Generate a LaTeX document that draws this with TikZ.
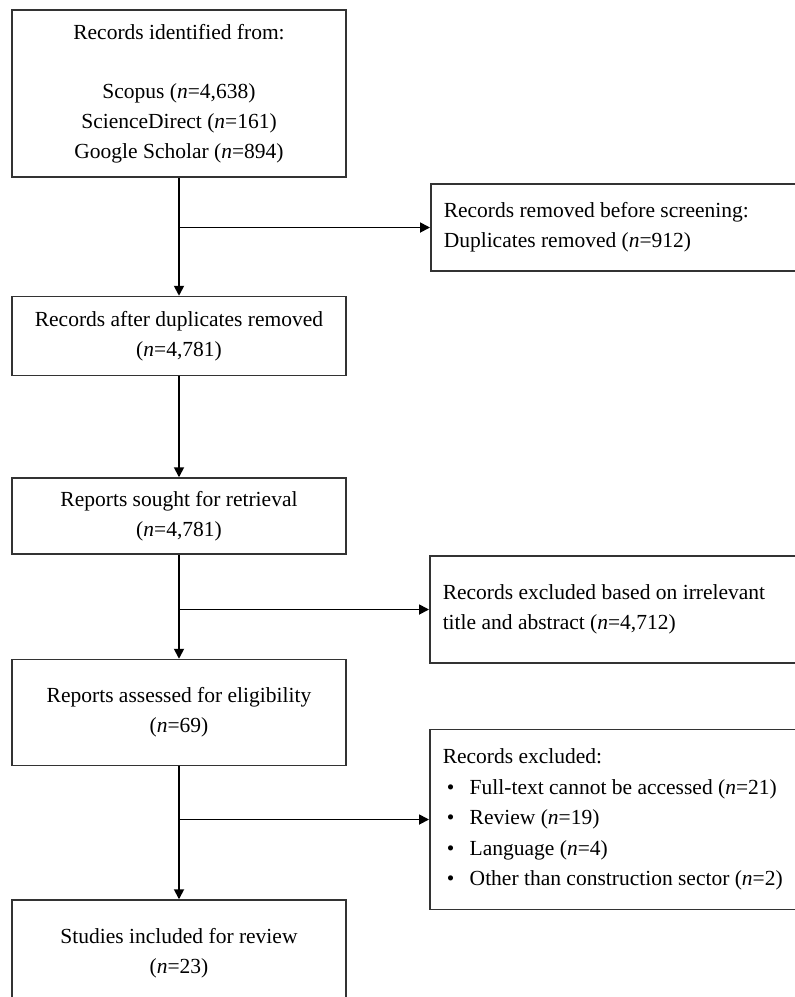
\documentclass[tikz,border=0pt]{standalone}
\usepackage{fontspec}
\setmainfont{Liberation Serif}
\usetikzlibrary{positioning, arrows.meta}

\begin{document}
\begin{tikzpicture}[
        x=1pt, y=-1pt,
        font=\fontsize{21.5}{29.7}\selectfont,
        stage/.style={rectangle, draw=black!80, line width=1.5pt, minimum width=334pt, inner sep=0pt, align=center},
        side/.style={rectangle, draw=black!80, line width=1.5pt, anchor=west, text width=390pt, inner xsep=13pt, inner ysep=0pt, align=flush left},
        flow/.style={-{Triangle[length=10pt, width=10pt]}, line width=1.8pt}
    ]
        \clip (0,0) rectangle (795,997);
        % Nodes
        \node (ident) [stage, minimum height=167pt] at (179, 93.5) {Records identified from:\\ \mbox{}\\ Scopus (\textit{n}=4,638)\\ ScienceDirect (\textit{n}=161)\\ Google Scholar (\textit{n}=894)};
        \node (dup) [stage, minimum height=79pt, below=118pt of ident] {Records after duplicates removed\\ (\textit{n}=4,781)};
        \node (sought) [stage, minimum height=76pt, below=101pt of dup] {Reports sought for retrieval\\ (\textit{n}=4,781)};
        \node (assess) [stage, minimum height=106pt, below=104pt of sought] {Reports assessed for eligibility\\ (\textit{n}=69)};
        \node (incl) [stage, minimum height=106pt, below=133pt of assess] {Studies included for review\\ (\textit{n}=23)};

        \node (removed) [side, minimum height=87pt] at (430, 227.5) {Records removed before screening:\\ Duplicates removed (\textit{n}=912)};
        \node (irrel) [side, minimum height=107pt] at (429, 609.5) {Records excluded based on irrelevant\\ title and abstract (\textit{n}=4,712)};
        \node (excl) [side, minimum height=180pt, font=\fontsize{21.5}{30.5}\selectfont] at (429, 819.5) {Records excluded:\\
            \hspace*{4pt}\makebox[23pt][l]{\textbullet}Full-text cannot be accessed (\textit{n}=21)\\
            \hspace*{4pt}\makebox[23pt][l]{\textbullet}Review (\textit{n}=19)\\
            \hspace*{4pt}\makebox[23pt][l]{\textbullet}Language (\textit{n}=4)\\
            \hspace*{4pt}\makebox[23pt][l]{\textbullet}Other than construction sector (\textit{n}=2)};

        % Arrows
        \draw [flow] (ident) -- (dup);
        \draw [flow] (dup) -- (sought);
        \draw [flow] (sought) -- (assess);
        \draw [flow] (assess) -- (incl);
        \draw [flow] (ident.south |- removed.west) -- (removed.west);
        \draw [flow] (sought.south |- irrel.west) -- (irrel.west);
        \draw [flow] (assess.south |- excl.west) -- (excl.west);
    \end{tikzpicture}
\end{document}
